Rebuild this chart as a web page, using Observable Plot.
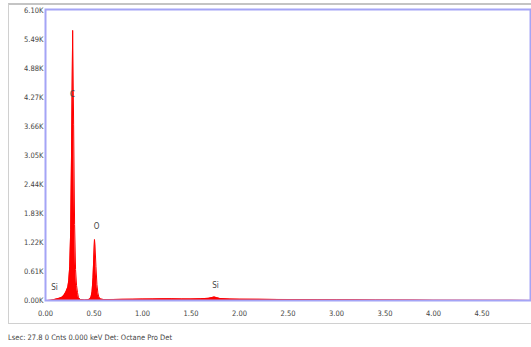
<!DOCTYPE html>
<html>
<head>
<meta charset="utf-8">
<script src="https://cdn.jsdelivr.net/npm/d3@7"></script>
<script src="https://cdn.jsdelivr.net/npm/@observablehq/plot@0.6"></script>
<style>
  html, body { margin: 0; padding: 0; background: #fff; }
  #wrap { position: relative; width: 531px; height: 347px; overflow: hidden; }
  #box { position: absolute; left: 8px; top: 3px; width: 600px; height: 318px;
         border-top: 2px solid #c4c4c4; border-left: 1.5px solid #d0d0d0; border-bottom: 1.5px solid #d0d0d0;
         pointer-events: none; }
  #chart { position: absolute; left: 0; top: 0; }
  #caption { position: absolute; left: 8px; top: 333px; font: 7.5px "Liberation Sans Narrow", "DejaVu Sans Condensed", sans-serif; color: #444; white-space: nowrap; }
</style>
</head>
<body>
<div id="wrap">
  <div id="chart"></div>
  <div id="box"></div>
  <div id="caption">Lsec: 27.8 0 Cnts 0.000 keV Det: Octane Pro Det</div>
</div>
<script>
// Spectrum: energy (keV) and counts
const energy = [0.00, 0.02, 0.05, 0.08, 0.11, 0.14, 0.17, 0.19, 0.21, 0.23, 0.24, 0.25, 0.26, 0.27, 0.28, 0.29, 0.30, 0.31, 0.32, 0.33, 0.34, 0.36, 0.40, 0.44, 0.46, 0.47, 0.48, 0.49, 0.50, 0.505, 0.51, 0.52, 0.53, 0.54, 0.55, 0.57, 0.60, 0.70, 0.80, 0.90, 1.00, 1.10, 1.20, 1.30, 1.40, 1.50, 1.60, 1.68, 1.72, 1.74, 1.76, 1.80, 1.90, 2.00, 2.20, 2.40, 2.60, 2.80, 3.00, 3.20, 3.40, 3.60, 3.80, 4.00, 4.20, 4.40, 4.60, 4.80, 4.99];
const counts = [0, 0, 5, 15, 30, 45, 70, 110, 180, 280, 420, 720, 1500, 3400, 5690, 3700, 1600, 650, 320, 170, 60, 20, 12, 15, 35, 80, 180, 480, 1020, 1285, 1170, 720, 340, 160, 70, 30, 20, 22, 25, 28, 30, 33, 35, 36, 34, 33, 38, 45, 65, 75, 62, 40, 30, 28, 25, 22, 20, 18, 16, 14, 12, 10, 8, 6, 5, 4, 3, 3, 2];

// Element labels
const labelNames = ["Si", "C", "O", "Si"];
const labelE = [0.093, 0.278, 0.526, 1.753];
const labelC = [274, 4340, 1559, 316];

// Tick labels
const xTicks = [0, 0.5, 1, 1.5, 2, 2.5, 3, 3.5, 4, 4.5];
const yTicks = [0, 610, 1220, 1830, 2440, 3050, 3660, 4270, 4880, 5490, 6100];

const spectrum = energy.map((e, i) => ({e, c: counts[i]}));
const labels = labelNames.map((n, i) => ({n, e: labelE[i], c: labelC[i]}));

const font = `"Liberation Sans Narrow", "DejaVu Sans Condensed", sans-serif`;

const chart = Plot.plot({
  width: 531,
  height: 325,
  marginLeft: 45,
  marginRight: 1,
  marginTop: 9,
  marginBottom: 25,
  style: {fontFamily: font, fontSize: "7.5px", color: "#444", background: "transparent", overflow: "visible"},
  x: {domain: [0, 5], ticks: xTicks, tickFormat: d => d.toFixed(2), tickSize: 0, tickPadding: 10, label: null},
  y: {domain: [0, 6130], ticks: yTicks, tickFormat: d => (d / 1000).toFixed(2) + "K", tickSize: 0, tickPadding: 2, label: null},
  marks: [
    Plot.areaY(spectrum, {x: "e", y: "c", fill: "#ff0000"}),
    Plot.lineY(spectrum, {x: "e", y: "c", stroke: "#ff0000", strokeWidth: 1}),
    Plot.text(labels, {x: "e", y: "c", text: "n", fill: "#444", fontSize: 8, fontFamily: font}),
    Plot.frame({stroke: "#a4a4f6", strokeWidth: 2})
  ]
});
document.getElementById("chart").appendChild(chart);
</script>
</body>
</html>
